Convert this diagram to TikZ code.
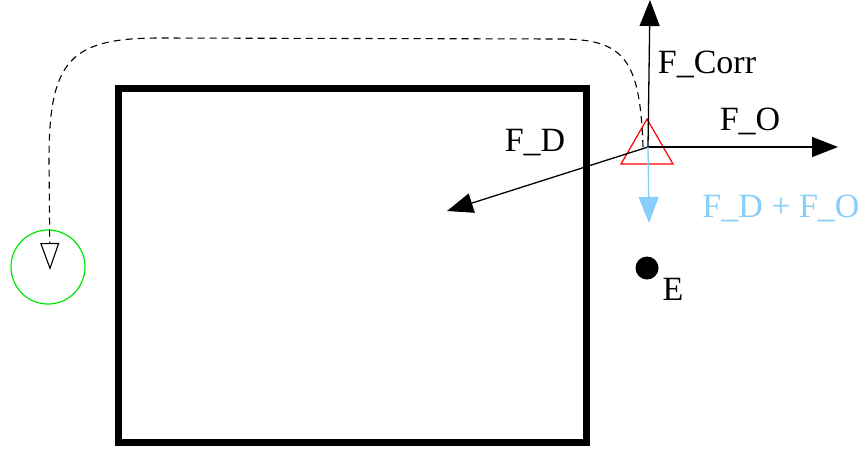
\documentclass[tikz,border=0pt]{standalone}
\usepackage{fontspec}
\setmainfont{Liberation Serif}
\usepackage{xcolor}
\usepackage{tikz}
\usetikzlibrary{arrows.meta, shapes.geometric}
\definecolor{forceblue}{RGB}{135, 206, 250}
\definecolor{goalgreen}{RGB}{0, 230, 0}

\begin{document}
\begin{tikzpicture}[
    x=1pt, y=-1pt,
    force/.style={-{Triangle[length=26pt, width=20pt]}, line width=1.3pt},
    lbl/.style={font=\fontsize{34}{40}\selectfont, inner sep=0pt},
    every node/.style={font=\fontsize{34}{40}\selectfont}
]
\useasboundingbox (0,0) rectangle (864,451);

% obstacle
\draw[line width=7pt] (118,88) rectangle (586,442);

% robot, goal and target point
\node[regular polygon, regular polygon sides=3, draw=red, line width=1.2pt, minimum size=60pt, inner sep=0pt] (robot) at (647,149) {};
\node[circle, draw=goalgreen, line width=1.2pt, minimum size=74pt, inner sep=0pt] (goal) at (48,267) {};
\node[circle, fill=black, minimum size=23pt, inner sep=0pt] (E) at (647,268) {};
\node[lbl] (Elbl) at (673,289) {E};

% forces
\coordinate (o) at (648,147);
\coordinate (corrtip) at (650,0);
\coordinate (otip) at (838,147);
\coordinate (dtip) at (447,211);
\coordinate (sumtip) at (649,223);

\draw[force] (o) -- (corrtip);
\draw[force] (o) -- (otip);
\draw[force] (o) -- (dtip);
\draw[force, forceblue] (o) -- (sumtip);

\node[lbl] (corrlbl) at (707,64) {F\_Corr};
\node[lbl] (olbl) at (750,121) {F\_O};
\node[lbl] (dlbl) at (535,143) {F\_D};
\node[lbl, forceblue] (sumlbl) at (781,208) {F\_D + F\_O};

% planned detour to goal
\coordinate (pathend) at (50,270);
\draw[dashed, dash pattern=on 7pt off 5pt, line width=1.1pt, -{Triangle[open, length=27pt, width=19pt]}]
    (643,147) .. controls (640,60) and (625,39) .. (560,39) -- (160,38)
    .. controls (70,38) and (49,60) .. (49,160) -- (pathend);

\end{tikzpicture}
\end{document}
